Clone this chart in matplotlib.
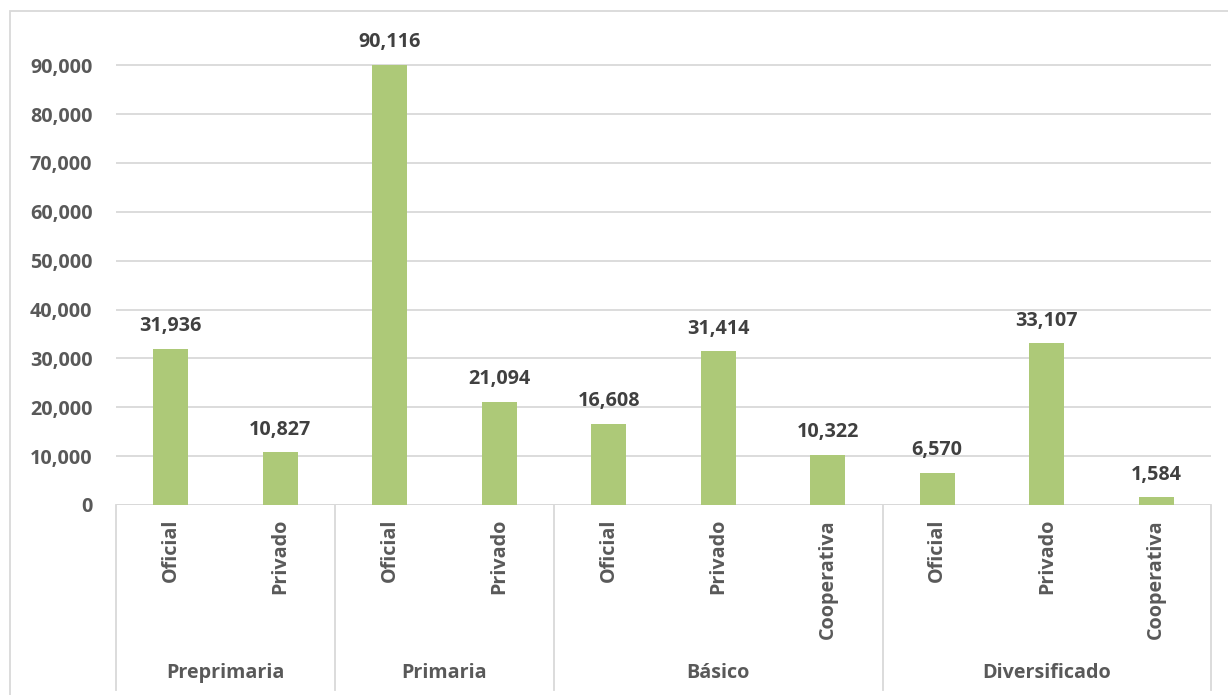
import matplotlib.pyplot as plt
from matplotlib.patches import Rectangle
from matplotlib.transforms import blended_transform_factory

# data
grupos = ['Preprimaria', 'Primaria', 'Básico', 'Diversificado']
sectores = ['Oficial', 'Privado',
            'Oficial', 'Privado',
            'Oficial', 'Privado', 'Cooperativa',
            'Oficial', 'Privado', 'Cooperativa']
grupo_n = [2, 2, 3, 3]
valores = [31936, 10827, 90116, 21094, 16608, 31414, 10322, 6570, 33107, 1584]
yticks = list(range(0, 90001, 10000))

plt.rcParams['font.family'] = ['Open Sans', 'DejaVu Sans']
W, H = 1228, 695
fs = 14.2
fig = plt.figure(figsize=(W / 100, H / 100), dpi=100)
ax = fig.add_axes([116 / W, (H - 505) / H, (1211 - 116) / W, 474 / H])

x = list(range(len(valores)))
ax.bar(x, valores, width=0.32, color='#ADC978', zorder=2)
for xi, v in zip(x, valores):
    ax.annotate(f'{v:,}', (xi, v), xytext=(0, 9), textcoords='offset points',
                ha='center', va='bottom', fontsize=fs, fontweight='bold',
                color='#404040', annotation_clip=False)

ax.set_xlim(-0.5, len(valores) - 0.5)
ax.set_ylim(0, 97000)
ax.set_yticks(yticks)
ax.set_yticklabels([f'{t:,}' for t in yticks], fontsize=fs, fontweight='bold', color='#595959')
ax.tick_params(axis='y', length=0, pad=17)
ax.set_xticks([])
ax.grid(axis='y', color='#D9D9D9', linewidth=1.3, zorder=0)
for s in ax.spines.values():
    s.set_visible(False)
ax.axhline(0, color='#D9D9D9', linewidth=1.3, zorder=1)

# category axis (two levels)
tr = blended_transform_factory(ax.transData, ax.transAxes)
ybot = -(690 - 505) / 474
for xi, lab in zip(x, sectores):
    ax.text(xi, -14 / 474, lab, transform=tr, rotation=90, ha='center', va='top',
            fontsize=fs, fontweight='bold', color='#595959')
start = 0
seps = [-0.5]
for g, n in zip(grupos, grupo_n):
    ax.text(start + (n - 1) / 2, -(673 - 505) / 474, g, transform=tr, ha='center', va='center',
            fontsize=fs, fontweight='bold', color='#595959')
    start += n
    seps.append(start - 0.5)
for s in seps:
    ax.plot([s, s], [0, ybot], transform=tr, color='#D9D9D9', linewidth=1.3, clip_on=False)

# chart border
fig.add_artist(Rectangle((10 / W, -0.01), 1.0, 1 - 11 / H + 0.01, transform=fig.transFigure,
                         fill=False, edgecolor='#D9D9D9', linewidth=1.3))

fig.savefig('out.png', dpi=100)
